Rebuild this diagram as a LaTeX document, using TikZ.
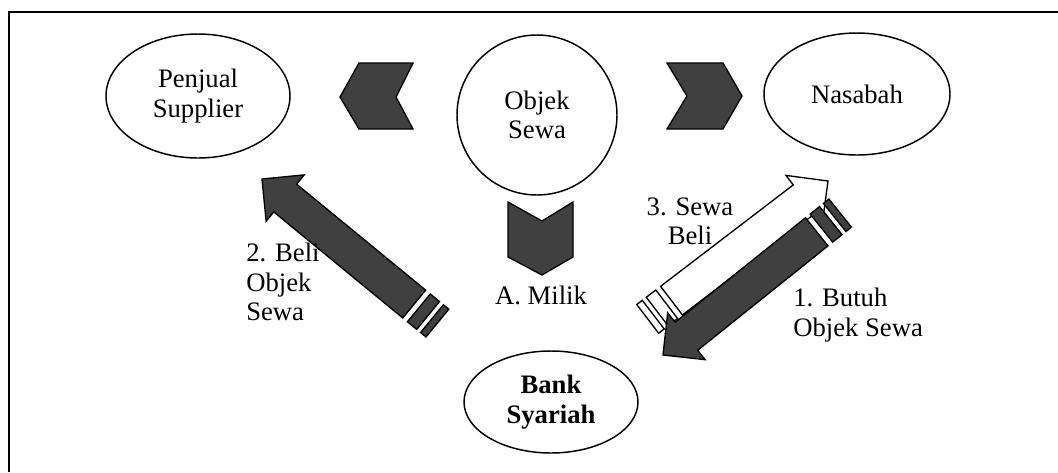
\documentclass[tikz,border=0pt]{standalone}
\usepackage{fontspec}
\setmainfont{Liberation Serif}
\usetikzlibrary{shapes.geometric}
\definecolor{darkblk}{HTML}{404040}
% striped block arrow: tip at #1, tail direction rotated by #2, fill #3
\newcommand{\stripedarrow}[3]{%
  \begin{scope}[shift={#1}, rotate=#2]
    \draw[blkline, fill=#3] (0,0) -- (30,30) -- (30,18) -- (197,18) -- (197,-18)
      -- (30,-18) -- (30,-30) -- cycle;
    \draw[blkline, fill=#3] (203,-18) rectangle (215,18);
    \draw[blkline, fill=#3] (220,-18) rectangle (227,18);
  \end{scope}}
\begin{document}
\begin{tikzpicture}[x=0.75pt, y=-0.75pt,
  txt/.style={font=\fontsize{20}{22}\selectfont},
  oval/.style={draw, line width=1.1pt, ellipse, inner sep=0pt, align=center, txt},
  lbl/.style={inner sep=0pt, txt},
  blkline/.style={line width=1pt, line join=miter},
  chev/.style={blkline, draw, fill=darkblk},
]
\useasboundingbox (0,0) rectangle (1058,472);
% frame
\draw[line width=1.3pt] (9,472) -- (9,12) -- (1058,12);

% parties
\node[oval, minimum width=138pt, minimum height=93pt] (penjual) at (198,96) {Penjual\\Supplier};
\node[oval, minimum width=120pt, minimum height=120pt] (objek) at (537,115) {Objek\\Sewa};
\node[oval, minimum width=139.5pt, minimum height=91.5pt] (nasabah) at (857,94) {Nasabah};
\node[oval, minimum width=130.5pt, minimum height=76.5pt, font=\fontsize{20}{22}\selectfont\bfseries] (bank) at (551,402) {Bank\\Syariah};

% chevrons around the leased object
\draw[chev] (340,97) -- (359,63) -- (413,63) -- (396,97) -- (413,129) -- (359,129) -- cycle;
\draw[chev] (667,63) -- (723,63) -- (742,96) -- (723,129) -- (667,129) -- (687,96) -- cycle;
\draw[chev] (508,202) -- (542,221) -- (573,202) -- (573,257) -- (542,275) -- (508,257) -- cycle;

% block arrows
\coordinate (tipbeli) at (262,179);
\coordinate (tipsewa) at (828,181);
\coordinate (tipbutuh) at (663,355);
\stripedarrow{(tipbeli)}{-39.4}{darkblk}
\stripedarrow{(tipsewa)}{-142.6}{white}
\stripedarrow{(tipbutuh)}{38.7}{darkblk}

% labels
\node[lbl, align=left, anchor=west] (lbeli) at (246,282) {2. Beli\\Objek\\Sewa};
\node[lbl] (lmilik) at (541,295) {A. Milik};
\node[lbl, align=center] (lsewa) at (690,221) {3. Sewa\\Beli};
\node[lbl, align=left, anchor=west] (lbutuh) at (793,315) {1. Butuh\\Objek Sewa};
\end{tikzpicture}
\end{document}
